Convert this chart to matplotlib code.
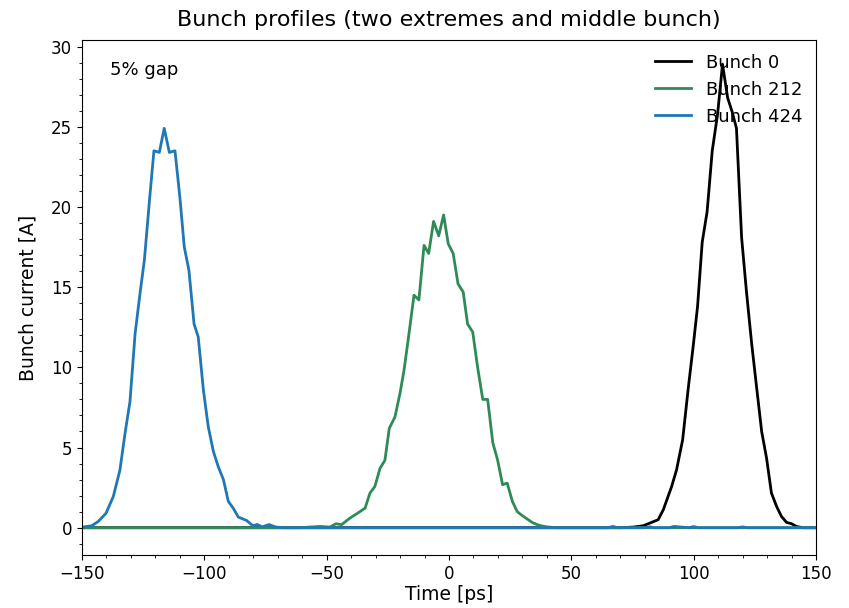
import matplotlib
matplotlib.use("Agg")
import matplotlib.pyplot as plt
from matplotlib.ticker import MultipleLocator

# Bunch 0 (rightmost bunch)
t_b0 = [-150, 70, 75.3, 79.4, 82.1, 85.5, 87.6, 91.0, 93.0, 95.5, 97.8, 99.8, 101.6,
        103.5, 105.5, 107.6, 109.8, 111.8, 113.9, 115.8, 117.5, 119.6, 121.6,
        123.7, 125.7, 127.8, 129.8, 131.8, 133.9, 135.9, 138.0, 140.0, 142.0,
        144.6, 150]
i_b0 = [0, 0, 0.04, 0.12, 0.29, 0.5, 1.12, 2.57, 3.6, 5.48, 8.7, 11.3, 13.8,
        17.8, 19.7, 23.5, 25.8, 28.9, 26.8, 25.9, 24.9, 18.1, 14.7,
        11.5, 8.8, 6.0, 4.34, 2.16, 1.33, 0.7, 0.33, 0.25, 0.08,
        0, 0]

# Bunch 212 (middle bunch)
t_b212 = [-150, -60.9, -52.7, -48.7, -46.2, -43.9, -40.5, -37.7, -34.3, -32.3,
          -30.3, -28.2, -26.2, -24.4, -22.1, -20.0, -18.4, -16.7, -14.3, -12.3,
          -10.2, -8.3, -6.3, -4.2, -2.2, -0.3, 1.7, 3.7, 5.8, 7.6, 9.7, 11.7,
          13.8, 15.8, 17.9, 19.9, 21.9, 23.8, 25.9, 27.9, 30.0, 32.0, 34.0,
          36.1, 38.2, 40.3, 44.0, 150]
i_b212 = [0, 0, 0.08, 0.04, 0.25, 0.19, 0.6, 0.87, 1.22, 2.16,
          2.57, 3.7, 4.2, 6.2, 6.9, 8.4, 9.8, 11.7, 14.5, 14.2,
          17.6, 17.1, 19.1, 18.2, 19.5, 17.7, 17.1, 15.2, 14.7, 12.7, 12.2, 10.0,
          8.0, 8.0, 5.3, 4.2, 2.68, 2.78, 1.64, 1.0, 0.75, 0.54, 0.33,
          0.19, 0.1, 0.05, 0, 0]

# Bunch 424 (leftmost bunch)
t_b424 = [-150.8, -146.0, -143.3, -140.2, -137.2, -134.5, -132.4, -130.4, -128.3,
          -126.3, -124.5, -122.2, -120.6, -118.4, -116.4, -114.3, -112.0, -110.0,
          -108.2, -106.3, -104.2, -102.5, -100.4, -98.4, -96.3, -94.3, -92.2,
          -90.2, -88.2, -86.1, -82.7, -80.2, -78.4, -76.3, -73.6, -71.0, -68.0,
          65.0, 67.0, 69.0, 80.0, 82.0, 84.0, 90.0, 92.0, 98.0, 100.0, 102.0,
          104.0, 118.0, 120.0, 122.0, 150]
i_b424 = [0.02, 0.12, 0.4, 0.9, 1.95, 3.6, 5.9, 7.86, 12.1,
          14.6, 16.7, 20.8, 23.5, 23.4, 24.9, 23.4, 23.5, 20.6,
          17.5, 16.05, 12.7, 11.9, 8.6, 6.3, 4.75, 3.8, 3.0,
          1.64, 1.22, 0.66, 0.45, 0.12, 0.2, 0.05, 0.2, 0.05, 0,
          0, 0.08, 0, 0, 0.06, 0, 0, 0.08, 0, 0.07, 0,
          0, 0, 0.05, 0, 0]

fig = plt.figure(figsize=(8.49, 6.08), dpi=100)
ax = fig.add_axes([0.0966, 0.0872, 0.8645, 0.8468])

ax.plot(t_b0, i_b0, color="black", lw=2, label="Bunch 0")
ax.plot(t_b212, i_b212, color="#2e8b57", lw=2, label="Bunch 212")
ax.plot(t_b424, i_b424, color="#1f77b4", lw=2, label="Bunch 424")

ax.set_xlim(-150, 150)
ax.set_ylim(-1.7, 30.4)
ax.xaxis.set_minor_locator(MultipleLocator(10))
ax.yaxis.set_minor_locator(MultipleLocator(1))
ax.tick_params(labelsize=12)

ax.set_title("Bunch profiles (two extremes and middle bunch)", fontsize=16, pad=10)
ax.set_xlabel("Time [ps]", fontsize=13.5, labelpad=2)
ax.set_ylabel("Bunch current [A]", fontsize=13.5, labelpad=10)
ax.text(0.038, 0.942, "5% gap", transform=ax.transAxes, fontsize=13, va="center")

ax.legend(loc="upper right", frameon=False, fontsize=13, borderaxespad=0.35)

fig.savefig("out.png", dpi=100)
